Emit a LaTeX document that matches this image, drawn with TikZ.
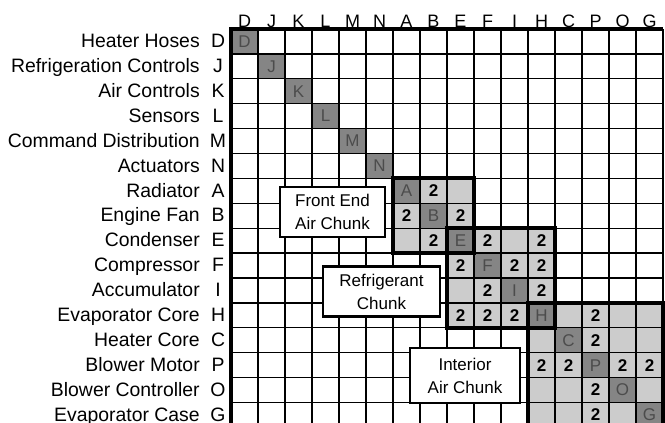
\documentclass[tikz,border=0pt]{standalone}
\usepackage{fontspec}
\setmainfont{Liberation Sans}
\definecolor{CellLight}{gray}{0.80}
\definecolor{CellDark}{gray}{0.52}
\definecolor{DiagInk}{gray}{0.30}

\begin{document}
\begin{tikzpicture}[x=1pt,y=-1pt,
  rowname/.style={anchor=base east,inner sep=0pt,font=\fontsize{19.4}{19}\selectfont},
  rowletter/.style={anchor=base,inner sep=0pt,font=\fontsize{19.4}{19}\selectfont},
  colletter/.style={anchor=south,inner sep=1.5pt,font=\fontsize{18}{18}\selectfont},
  diagcell/.style={inner sep=0pt,text=DiagInk,font=\fontsize{17}{17}\selectfont},
  twocell/.style={inner sep=0pt,font=\fontsize{17}{17}\selectfont\bfseries},
  chunkbox/.style={draw,line width=2.2pt,fill=white,align=center,inner sep=0pt,font=\fontsize{17}{23}\selectfont}]
  \useasboundingbox (0,0) rectangle (665,423);
  \begin{scope}[shift={(231,29)},x=27pt,y=-24.9pt]
  % chunk shading
  \fill[CellLight] (6,6) rectangle (9,9); \fill[CellLight] (8,8) rectangle (12,12); \fill[CellLight] (11,11) rectangle (16,16);
  \foreach \i/\lab/\name in {0/D/Heater Hoses,1/J/Refrigeration Controls,2/K/Air Controls,3/L/Sensors,4/M/Command Distribution,5/N/Actuators,6/A/Radiator,7/B/Engine Fan,8/E/Condenser,9/F/Compressor,10/I/Accumulator,11/H/Evaporator Core,12/C/Heater Core,13/P/Blower Motor,14/O/Blower Controller,15/G/Evaporator Case}{
    \fill[CellDark] (\i,\i) rectangle ++(1,1);
    \node[rowname] (n\lab) at (-1.15,\i+.75) {\name};
    \node[rowletter] (r\lab) at (-.48,\i+.75) {\lab};
    \node[colletter] (c\lab) at (\i+.5,0) {\lab};}
  % grid
  \foreach \k in {1,...,16}{\draw[line width=1.3pt] (\k,0) -- (\k,16); \draw[line width=1.3pt] (0,\k) -- (16,\k);}
  \draw[line width=4pt] (0,16.2) -- (0,0) -- (16,0);
  \foreach \i/\lab in {0/D,1/J,2/K,3/L,4/M,5/N,6/A,7/B,8/E,9/F,10/I,11/H,12/C,13/P,14/O,15/G}{\node[diagcell] (d\lab) at (\i+.5,\i+.5) {\lab};}
  % interactions
  \foreach \c/\r in {7/6,6/7,8/7,7/8,9/8,11/8,8/9,10/9,11/9,9/10,11/10,8/11,9/11,10/11,13/11,13/12,11/13,12/13,14/13,15/13,13/14,13/15}{\node[twocell] (t\c-\r) at (\c+.5,\r+.5) {2};}
  % chunks
  \draw[line width=4pt] (6,6) rectangle (9,9);
  \draw[line width=4pt] (8,8) rectangle (12,12);
  \draw[line width=4pt] (11,11) rectangle (16,16.3);
  \end{scope}
  \node[chunkbox,minimum width=105pt,minimum height=50pt] (front) at (332.5,212) {Front End\\Air Chunk};
  \node[chunkbox,minimum width=117pt,minimum height=50pt] (refrig) at (381.5,291.5) {Refrigerant\\Chunk};
  \node[chunkbox,minimum width=110pt,minimum height=55pt] (interior) at (465,375.5) {Interior\\Air Chunk};
\end{tikzpicture}
\end{document}
